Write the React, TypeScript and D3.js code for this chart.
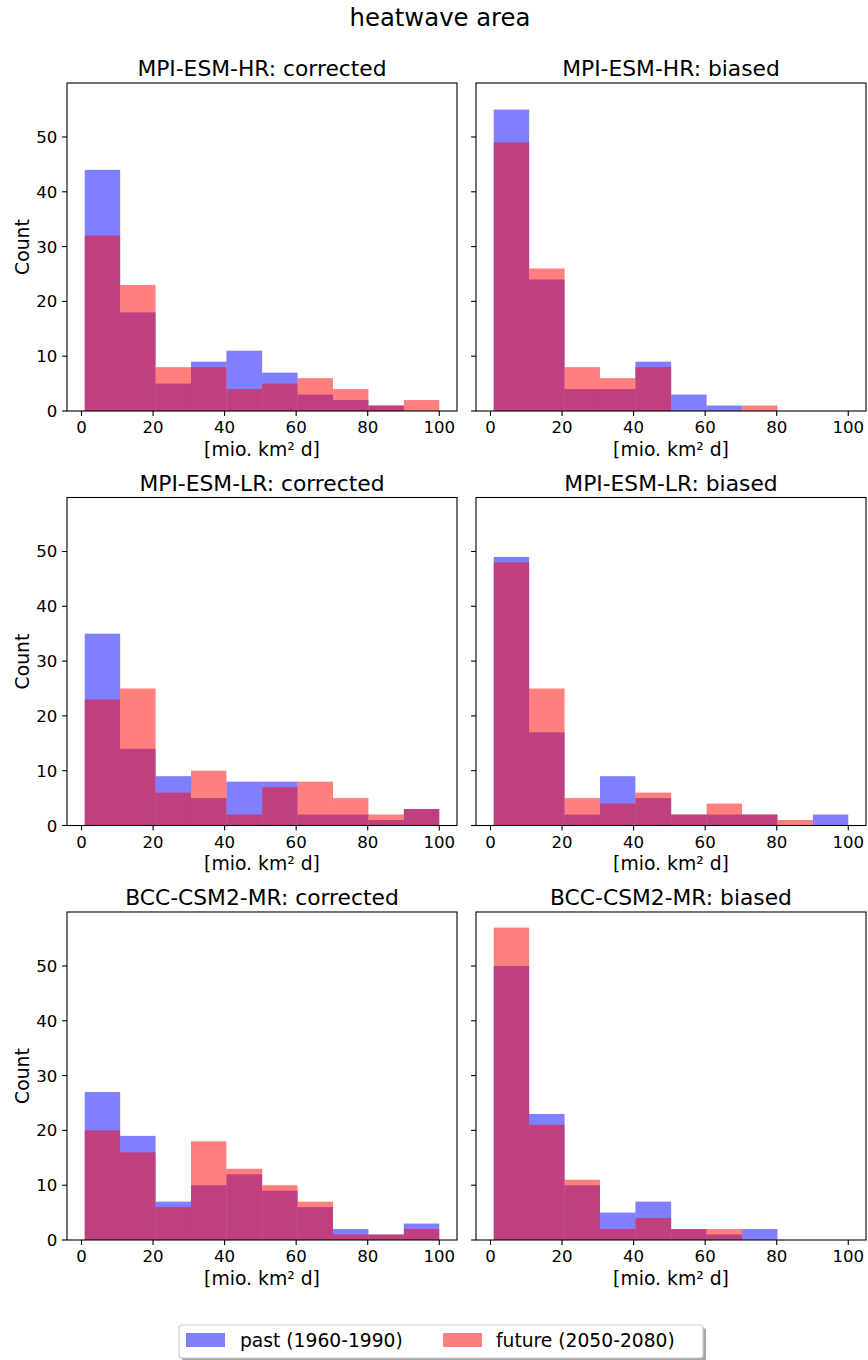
import React from "react";
import * as d3 from "d3";

// ---- data ----
const binEdges = [0.9, 10.8, 20.7, 30.6, 40.5, 50.5, 60.4, 70.3, 80.2, 90.1, 100];
const xTicks = [0, 20, 40, 60, 80, 100];
const yTicks = [0, 10, 20, 30, 40, 50];
const models = ["MPI-ESM-HR", "MPI-ESM-LR", "BCC-CSM2-MR"];
const variants = ["corrected", "biased"];
const seriesNames = ["past (1960-1990)", "future (2050-2080)"];

const hrCorrectedPast = [44, 18, 5, 9, 11, 7, 3, 2, 1, 0];
const hrCorrectedFuture = [32, 23, 8, 8, 4, 5, 6, 4, 1, 2];
const hrBiasedPast = [55, 24, 4, 4, 9, 3, 1, 0, 0, 0];
const hrBiasedFuture = [49, 26, 8, 6, 8, 0, 0, 1, 0, 0];
const lrCorrectedPast = [35, 14, 9, 5, 8, 8, 2, 2, 1, 3];
const lrCorrectedFuture = [23, 25, 6, 10, 2, 7, 8, 5, 2, 3];
const lrBiasedPast = [49, 17, 2, 9, 5, 2, 2, 2, 0, 2];
const lrBiasedFuture = [48, 25, 5, 4, 6, 2, 4, 2, 1, 0];
const bccCorrectedPast = [27, 19, 7, 10, 12, 9, 6, 2, 1, 3];
const bccCorrectedFuture = [20, 16, 6, 18, 13, 10, 7, 1, 1, 2];
const bccBiasedPast = [50, 23, 10, 5, 7, 2, 1, 2, 0, 0];
const bccBiasedFuture = [57, 21, 11, 2, 4, 2, 2, 0, 0, 0];

const pastTable = [
  [hrCorrectedPast, hrBiasedPast],
  [lrCorrectedPast, lrBiasedPast],
  [bccCorrectedPast, bccBiasedPast],
];
const futureTable = [
  [hrCorrectedFuture, hrBiasedFuture],
  [lrCorrectedFuture, lrBiasedFuture],
  [bccCorrectedFuture, bccBiasedFuture],
];

// ---- layout ----
const W = 868;
const H = 1360;
const colLefts = [67, 476];
const colWidth = 390;
const rowTops = [83, 497.5, 912];
const rowHeight = 328;
const FONT = "DejaVu Sans, sans-serif";
const tickFont = 16.6;
const labelFont = 18.8;
const titleFont = 21.8;
const pastColor = "blue";
const futureColor = "red";

const allMax = d3.max([...pastTable.flat(), ...futureTable.flat()].flat()) as number;
const xMin = binEdges[0];
const xMax = binEdges[binEdges.length - 1];
const xPad = (xMax - xMin) * 0.05;

function Panel({ r, c }: { r: number; c: number }) {
  const left = colLefts[c];
  const top = rowTops[r];
  const x = d3.scaleLinear().domain([xMin - xPad, xMax + xPad]).range([left, left + colWidth]);
  const y = d3.scaleLinear().domain([0, allMax * 1.05]).range([top + rowHeight, top]);
  const bottom = top + rowHeight;
  const series = [
    { data: pastTable[r][c], color: pastColor },
    { data: futureTable[r][c], color: futureColor },
  ];
  return (
    <g>
      {series.map((s, si) => (
        <g key={si}>
          {s.data.map((v, i) =>
            v > 0 ? (
              <rect
                key={i}
                x={x(binEdges[i])}
                width={x(binEdges[i + 1]) - x(binEdges[i])}
                y={y(v)}
                height={y(0) - y(v)}
                fill={s.color}
                fillOpacity={0.5}
              />
            ) : null
          )}
        </g>
      ))}
      <rect x={left} y={top} width={colWidth} height={rowHeight} fill="none" stroke="#000" strokeWidth={1.1} />
      {xTicks.map((t) => (
        <g key={"x" + t}>
          <line x1={x(t)} x2={x(t)} y1={bottom} y2={bottom + 4.9} stroke="#000" strokeWidth={1.1} />
          <text x={x(t)} y={bottom + 22.3} textAnchor="middle" fontSize={tickFont} fontFamily={FONT}>
            {t}
          </text>
        </g>
      ))}
      {yTicks.map((t) => (
        <g key={"y" + t}>
          <line x1={left - 4.9} x2={left} y1={y(t)} y2={y(t)} stroke="#000" strokeWidth={1.1} />
          {c === 0 ? (
            <text x={left - 9.7} y={y(t) + 6} textAnchor="end" fontSize={tickFont} fontFamily={FONT}>
              {t}
            </text>
          ) : null}
        </g>
      ))}
      <text x={left + colWidth / 2} y={bottom + 44.8} textAnchor="middle" fontSize={labelFont} fontFamily={FONT}>
        [mio. km² d]
      </text>
      {c === 0 ? (
        <text
          transform={`translate(28.5,${top + rowHeight / 2}) rotate(-90)`}
          textAnchor="middle"
          fontSize={labelFont}
          fontFamily={FONT}
        >
          Count
        </text>
      ) : null}
      <text x={left + colWidth / 2} y={top - 7} textAnchor="middle" fontSize={titleFont} fontFamily={FONT}>
        {models[r]}: {variants[c]}
      </text>
    </g>
  );
}

function Legend() {
  const lx = 179;
  const ly = 1325;
  const lw = 524;
  const lh = 33;
  const items = [
    { label: seriesNames[0], color: pastColor, px: 186, tx: 240 },
    { label: seriesNames[1], color: futureColor, px: 443, tx: 496 },
  ];
  return (
    <g>
      <rect x={lx + 3} y={ly + 3} width={lw} height={lh} rx={3} fill="#000" fillOpacity={0.35} />
      <rect x={lx} y={ly} width={lw} height={lh} rx={3} fill="#fff" stroke="#ccc" strokeWidth={1.1} />
      {items.map((it) => (
        <g key={it.label}>
          <rect x={it.px} y={1333} width={39} height={14} fill={it.color} fillOpacity={0.5} />
          <text x={it.tx} y={1346.5} fontSize={18.7} fontFamily={FONT}>
            {it.label}
          </text>
        </g>
      ))}
    </g>
  );
}

export default function App() {
  return (
    <div>
      <style>{`body{margin:0}`}</style>
      <svg width={W} height={H} style={{ display: "block", background: "#fff" }}>
        <text x={440} y={26} textAnchor="middle" fontSize={24.3} fontFamily={FONT}>
          heatwave area
        </text>
        {models.map((_, r) => variants.map((__, c) => <Panel key={r + "-" + c} r={r} c={c} />))}
        <Legend />
      </svg>
    </div>
  );
}
